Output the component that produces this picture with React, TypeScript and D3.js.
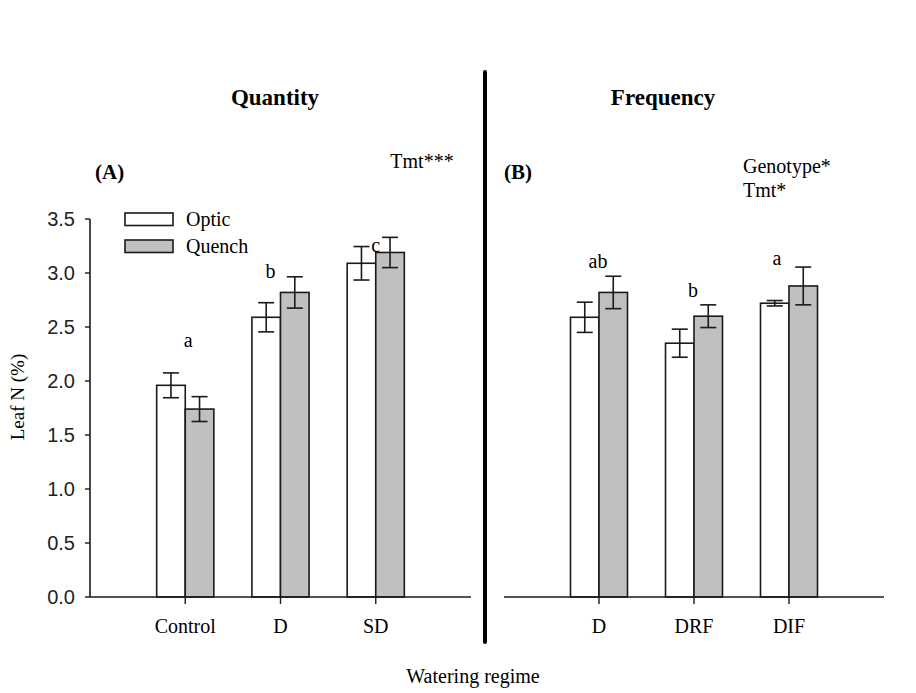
import React from "react";
import * as d3 from "d3";

// Leaf N (%) by watering regime, two genotypes, mean ± SE
const quantityCats = ["Control", "D", "SD"];
const quantityOptic = [1.96, 2.59, 3.09];
const quantityOpticSE = [0.115, 0.135, 0.155];
const quantityQuench = [1.74, 2.82, 3.19];
const quantityQuenchSE = [0.115, 0.145, 0.14];
const quantityLetters = ["a", "b", "c"];

const frequencyCats = ["D", "DRF", "DIF"];
const frequencyOptic = [2.59, 2.35, 2.72];
const frequencyOpticSE = [0.14, 0.13, 0.025];
const frequencyQuench = [2.82, 2.6, 2.88];
const frequencyQuenchSE = [0.15, 0.105, 0.175];
const frequencyLetters = ["ab", "b", "a"];

const yTicks = [0, 0.5, 1.0, 1.5, 2.0, 2.5, 3.0, 3.5];
const seriesNames = ["Optic", "Quench"];

const SERIF = "'Liberation Serif', 'Times New Roman', serif";
const SANS = "'Liberation Sans', Arial, sans-serif";
const FILLS = ["#ffffff", "#c0c0c0"];
const INK = "#1a1a1a";

const y = d3.scaleLinear().domain([0, 3.5]).range([597, 219]);

type PanelProps = {
  cats: string[];
  optic: number[];
  opticSE: number[];
  quench: number[];
  quenchSE: number[];
  letters: string[];
  letterPos: { dx: number; v: number }[];
  x0: number;
  x1: number;
};

function Panel({ cats, optic, opticSE, quench, quenchSE, letters, letterPos, x0, x1 }: PanelProps) {
  const x = d3.scalePoint<string>().domain(cats).range([x0, x1]).padding(1);
  const barW = x.step() * 0.3;
  const series = [
    { vals: optic, se: opticSE, off: -barW },
    { vals: quench, se: quenchSE, off: 0 },
  ];
  const cap = 8;
  return (
    <g>
      {series.map((s, si) =>
        cats.map((c, i) => {
          const left = (x(c) as number) + s.off;
          const cx = left + barW / 2;
          const v = s.vals[i];
          return (
            <g key={`${si}-${c}`}>
              <rect
                x={left}
                y={y(v)}
                width={barW}
                height={y(0) - y(v)}
                fill={FILLS[si]}
                stroke={INK}
                strokeWidth={1.6}
              />
              <line x1={cx} x2={cx} y1={y(v + s.se[i])} y2={y(v - s.se[i])} stroke={INK} strokeWidth={1.6} />
              <line x1={cx - cap} x2={cx + cap} y1={y(v + s.se[i])} y2={y(v + s.se[i])} stroke={INK} strokeWidth={1.6} />
              <line x1={cx - cap} x2={cx + cap} y1={y(v - s.se[i])} y2={y(v - s.se[i])} stroke={INK} strokeWidth={1.6} />
            </g>
          );
        })
      )}
      {/* x axis */}
      <line x1={x0} x2={x1} y1={y(0)} y2={y(0)} stroke={INK} strokeWidth={1.6} />
      {cats.map((c) => (
        <g key={c}>
          <line x1={x(c)} x2={x(c)} y1={y(0)} y2={y(0) + 7} stroke={INK} strokeWidth={1.4} />
          <text x={x(c)} y={633} textAnchor="middle" fontFamily={SERIF} fontSize={20}>
            {c}
          </text>
        </g>
      ))}
      {letters.map((l, i) => (
        <text
          key={`l${i}`}
          x={(x(cats[i]) as number) + letterPos[i].dx}
          y={y(letterPos[i].v)}
          textAnchor="middle"
          fontFamily={SERIF}
          fontSize={20}
        >
          {l}
        </text>
      ))}
    </g>
  );
}

export default function App() {
  return (
    <svg width={916} height={693} style={{ display: "block", position: "absolute", left: 0, top: 0 }}>
      <rect width={916} height={693} fill="#ffffff" />

      {/* titles */}
      <text x={275} y={105} textAnchor="middle" fontFamily={SERIF} fontWeight="bold" fontSize={23}>
        Quantity
      </text>
      <text x={663} y={105} textAnchor="middle" fontFamily={SERIF} fontWeight="bold" fontSize={23}>
        Frequency
      </text>
      <text x={95} y={179} fontFamily={SERIF} fontWeight="bold" fontSize={21}>
        (A)
      </text>
      <text x={504} y={179} fontFamily={SERIF} fontWeight="bold" fontSize={21}>
        (B)
      </text>
      <text x={422} y={168} textAnchor="middle" fontFamily={SERIF} fontSize={20}>
        Tmt***
      </text>
      <text x={743} y={173} fontFamily={SERIF} fontSize={20}>
        Genotype*
      </text>
      <text x={743} y={197} fontFamily={SERIF} fontSize={20}>
        Tmt*
      </text>

      {/* y axis */}
      <line x1={90} x2={90} y1={y(3.5)} y2={y(0)} stroke={INK} strokeWidth={1.6} />
      {yTicks.map((t) => (
        <g key={t}>
          <line x1={85} x2={90} y1={y(t)} y2={y(t)} stroke={INK} strokeWidth={1.4} />
          <text x={75} y={y(t)} dy="0.36em" textAnchor="end" fontFamily={SANS} fontSize={20} fill="#222">
            {t.toFixed(1)}
          </text>
        </g>
      ))}
      <text
        transform={`translate(24, ${397}) rotate(-90)`}
        textAnchor="middle"
        fontFamily={SERIF}
        fontSize={19}
      >
        Leaf N (%)
      </text>

      <Panel
        cats={quantityCats}
        optic={quantityOptic}
        opticSE={quantityOpticSE}
        quench={quantityQuench}
        quenchSE={quantityQuenchSE}
        letters={quantityLetters}
        letterPos={[
          { dx: 3, v: 2.315 },
          { dx: -10, v: 2.95 },
          { dx: 0, v: 3.19 },
        ]}
        x0={90}
        x1={471}
      />
      <Panel
        cats={frequencyCats}
        optic={frequencyOptic}
        opticSE={frequencyOpticSE}
        quench={frequencyQuench}
        quenchSE={frequencyQuenchSE}
        letters={frequencyLetters}
        letterPos={[
          { dx: -1, v: 3.05 },
          { dx: -1, v: 2.78 },
          { dx: -12, v: 3.07 },
        ]}
        x0={504}
        x1={884}
      />

      {/* legend */}
      {seriesNames.map((n, i) => (
        <g key={n}>
          <rect x={125} y={213 + i * 27} width={48} height={12.5} fill={FILLS[i]} stroke={INK} strokeWidth={1.6} />
          <text x={186} y={226 + i * 27} fontFamily={SERIF} fontSize={20}>
            {n}
          </text>
        </g>
      ))}

      {/* divider between panels */}
      <line x1={485} x2={485} y1={72} y2={642} stroke="#000" strokeWidth={4} strokeLinecap="round" />

      <text x={473} y={683} textAnchor="middle" fontFamily={SERIF} fontSize={20}>
        Watering regime
      </text>
    </svg>
  );
}
